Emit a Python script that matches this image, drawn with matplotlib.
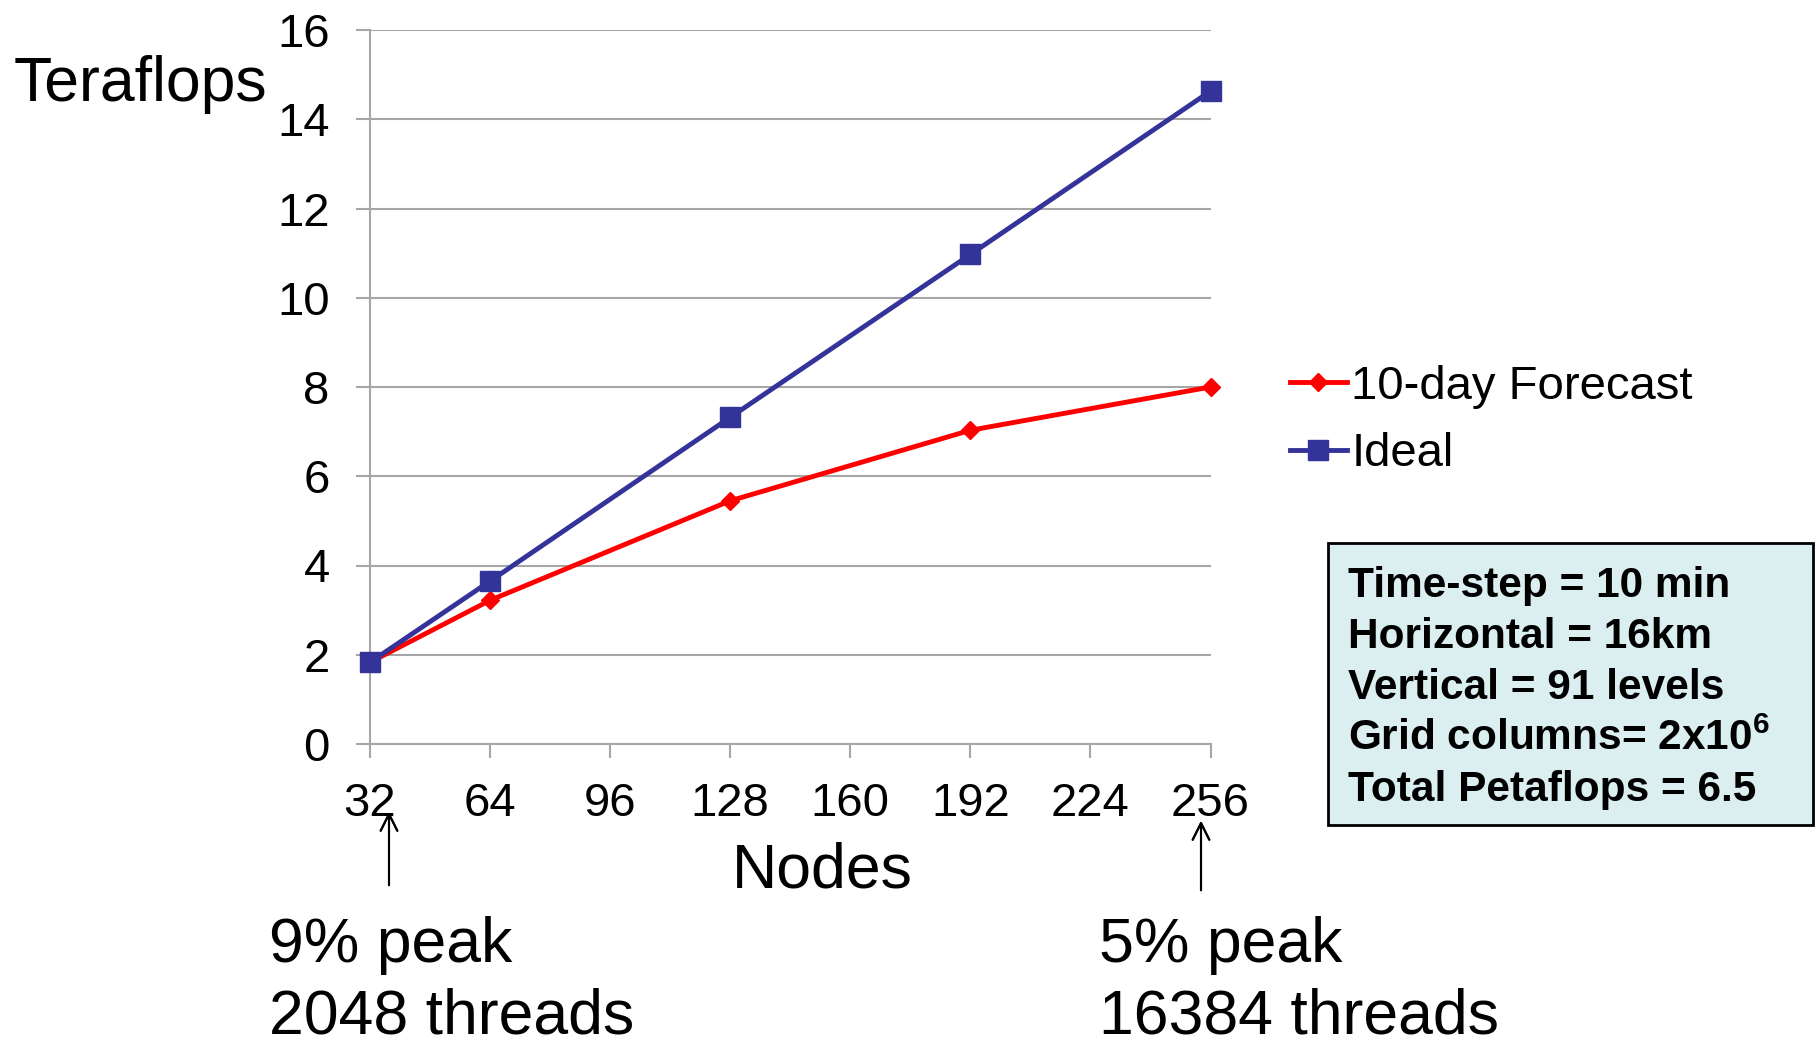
import matplotlib
matplotlib.use("Agg")
import matplotlib.pyplot as plt
from matplotlib.patches import Rectangle

plt.rcParams['font.family'] = ['Liberation Sans', 'DejaVu Sans']
plt.rcParams['mathtext.fontset'] = 'custom'
plt.rcParams['mathtext.rm'] = 'Liberation Sans:bold'
plt.rcParams['mathtext.bf'] = 'Liberation Sans:bold'

# data
nodes = [32, 64, 128, 192, 256]
forecast = [1.83, 3.22, 5.45, 7.03, 8.0]
ideal = [1.83, 3.65, 7.32, 10.97, 14.63]
x_ticks = [32, 64, 96, 128, 160, 192, 224, 256]
y_ticks = [0, 2, 4, 6, 8, 10, 12, 14, 16]
box_lines = ['Time-step = 10 min', 'Horizontal = 16km', 'Vertical = 91 levels',
             r'Grid columns= 2x10$^{6}$', 'Total Petaflops = 6.5']

W, H = 1819, 1039
fig = plt.figure(figsize=(W / 100, H / 100), dpi=100)
ax = fig.add_axes([370 / W, 1 - 744 / H, (1210.5 - 370) / W, (744 - 30) / H])

grid_c = '#a6a6a6'
ax.plot(nodes, forecast, color='#ff0000', lw=3.5, marker='D', ms=9,
        label='10-day Forecast', clip_on=False, zorder=3)
ax.plot(nodes, ideal, color='#333399', lw=3.5, marker='s', ms=15,
        label='Ideal', clip_on=False, zorder=4)

ax.set_xlim(32, 256)
ax.set_ylim(0, 16)
ax.set_xticks(x_ticks)
ax.set_yticks(y_ticks)
ax.yaxis.grid(True, color=grid_c, lw=1.5)
for s in ['top', 'right']:
    ax.spines[s].set_visible(False)
for s in ['left', 'bottom']:
    ax.spines[s].set_color(grid_c)
    ax.spines[s].set_linewidth(1.5)
ax.tick_params(axis='both', colors=grid_c, width=1.5, length=10,
               labelsize=34, labelcolor='black')
ax.tick_params(axis='x', pad=17)
ax.tick_params(axis='y', pad=19)

fig.legend(loc='upper left', bbox_to_anchor=(1290 / W, 1 - 365 / H),
           frameon=False, fontsize=34, handlelength=1.2, handletextpad=0.1,
           labelspacing=0.49, borderpad=0, borderaxespad=0)

fig.text(14 / W, 1 - 101 / H, 'Teraflops', fontsize=45, va='baseline')
fig.text(822 / W, 1 - 887 / H, 'Nodes', fontsize=45, ha='center', va='baseline')

# info box
fig.patches.append(Rectangle((1328 / W, 1 - 825 / H), 485 / W, 282 / H,
                             transform=fig.transFigure, facecolor='#dbeef0',
                             edgecolor='black', lw=2))
for i, line in enumerate(box_lines):
    fig.text(1348 / W, 1 - (597 + 51 * i) / H, line, fontsize=30.5,
             fontweight='bold', va='baseline')

# peak annotations
arrow = dict(arrowstyle='->', color='black', lw=1.5, mutation_scale=30)
fig.add_artist(plt.annotate('', xy=(389 / W, 1 - 809 / H), xytext=(389 / W, 1 - 888 / H),
                            xycoords='figure fraction', arrowprops=arrow))
fig.add_artist(plt.annotate('', xy=(1201 / W, 1 - 818 / H), xytext=(1201 / W, 1 - 893 / H),
                            xycoords='figure fraction', arrowprops=arrow))
fig.text(269 / W, 1 - 962 / H, '9% peak', fontsize=45, va='baseline')
fig.text(269 / W, 1 - 1034 / H, '2048 threads', fontsize=45, va='baseline')
fig.text(1099 / W, 1 - 962 / H, '5% peak', fontsize=45, va='baseline')
fig.text(1099 / W, 1 - 1034 / H, '16384 threads', fontsize=45, va='baseline')

fig.savefig('out.png', dpi=100)
